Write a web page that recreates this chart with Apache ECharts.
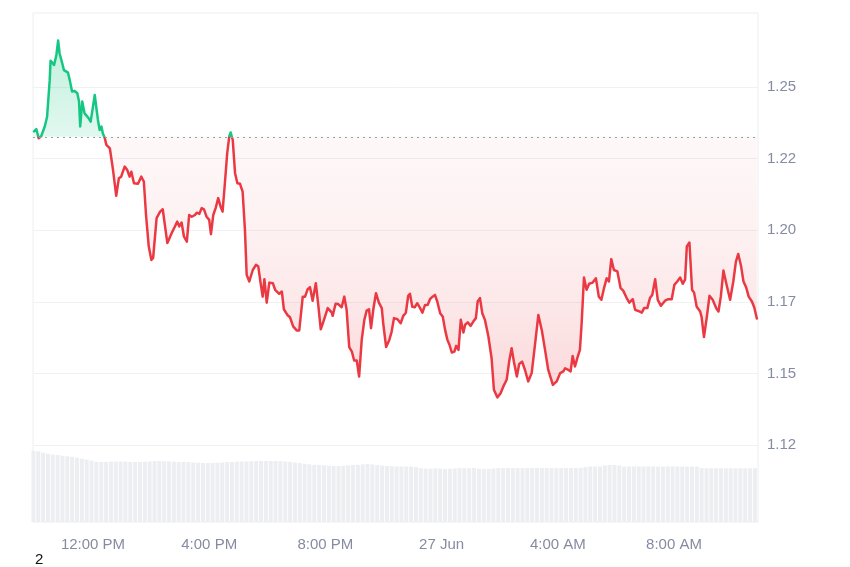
<!DOCTYPE html>
<html><head><meta charset="utf-8">
<script src="https://cdn.jsdelivr.net/npm/echarts@6/dist/echarts.min.js"></script>
<style>html,body{margin:0;padding:0;background:#fff}#c{width:850px;height:567px}</style>
</head><body><div id="c"></div><script>
// Reference (opening) price shown by the dotted line
const baseline = 1.2326;

// Time in hours since 26 Jun 00:00
const priceTimes = [9.97,10.05,10.13,10.22,10.34,10.42,10.51,10.54,10.66,10.74,10.80,10.85,10.94,11.00,11.14,11.20,11.28,11.37,11.46,11.52,11.56,11.63,11.71,11.83,11.92,12.06,12.17,12.23,12.29,12.34,12.40,12.46,12.58,12.69,12.80,12.89,12.97,13.09,13.18,13.26,13.32,13.41,13.55,13.66,13.75,13.83,13.92,14.01,14.07,14.19,14.31,14.40,14.56,14.71,14.82,14.90,14.97,15.05,15.13,15.23,15.31,15.40,15.51,15.57,15.66,15.74,15.82,15.91,16.00,16.06,16.14,16.23,16.31,16.40,16.46,16.54,16.62,16.69,16.74,16.81,16.89,16.97,17.06,17.15,17.23,17.29,17.38,17.50,17.61,17.69,17.77,17.84,17.90,17.98,18.07,18.19,18.27,18.41,18.50,18.57,18.69,18.78,18.89,19.01,19.10,19.22,19.30,19.39,19.47,19.56,19.67,19.76,19.84,19.95,20.08,20.22,20.25,20.35,20.44,20.56,20.65,20.73,20.82,20.91,20.99,21.08,21.16,21.25,21.34,21.42,21.50,21.57,21.65,21.74,21.84,21.94,21.99,22.09,22.20,22.28,22.36,22.48,22.59,22.68,22.77,22.85,22.91,22.99,23.08,23.16,23.26,23.34,23.43,23.52,23.60,23.69,23.77,23.85,23.95,24.04,24.12,24.20,24.27,24.35,24.44,24.50,24.58,24.66,24.75,24.81,24.90,25.00,25.09,25.18,25.24,25.32,25.40,25.49,25.61,25.72,25.80,25.92,26.03,26.15,26.24,26.33,26.41,26.49,26.59,26.67,26.77,26.87,26.98,27.10,27.22,27.33,27.45,27.56,27.67,27.83,27.96,28.08,28.19,28.25,28.36,28.44,28.51,28.59,28.67,28.76,28.82,28.90,28.99,29.08,29.20,29.31,29.41,29.50,29.59,29.68,29.76,29.84,29.93,30.05,30.16,30.25,30.37,30.46,30.58,30.66,30.77,30.89,30.97,31.08,31.17,31.25,31.35,31.44,31.55,31.69,31.80,31.92,32.01,32.11,32.21,32.30,32.38,32.44,32.53,32.62,32.69,32.78,32.90,32.95,33.03,33.13,33.22,33.33,33.45,33.53,33.61,33.70,33.81,33.93,34.04,34.13,34.21,34.31,34.39,34.48,34.57,34.68,34.76,34.85];

const prices = [1.2345,1.2353,1.2321,1.2329,1.2362,1.2396,1.2524,1.2592,1.2577,1.2612,1.2662,1.2618,1.2583,1.2559,1.2550,1.2524,1.2484,1.2486,1.2478,1.2449,1.2362,1.2449,1.2408,1.2394,1.2379,1.2472,1.2385,1.2350,1.2362,1.2338,1.2324,1.2298,1.2286,1.2210,1.2120,1.2181,1.2187,1.2222,1.2210,1.2187,1.2204,1.2164,1.2162,1.2187,1.2170,1.2047,1.1943,1.1896,1.1903,1.2042,1.2065,1.2073,1.1955,1.1990,1.2013,1.2030,1.2013,1.2027,1.1978,1.1960,1.2053,1.2047,1.2053,1.2061,1.2057,1.2077,1.2073,1.2047,1.2036,1.1986,1.2053,1.2080,1.2112,1.2080,1.2065,1.2164,1.2269,1.2327,1.2341,1.2315,1.2199,1.2164,1.2162,1.2135,1.2001,1.1844,1.1821,1.1861,1.1879,1.1873,1.1815,1.1768,1.1829,1.1747,1.1817,1.1815,1.1792,1.1778,1.1786,1.1724,1.1704,1.1696,1.1664,1.1650,1.1650,1.1768,1.1768,1.1794,1.1801,1.1754,1.1815,1.1733,1.1654,1.1687,1.1728,1.1712,1.1701,1.1743,1.1742,1.1731,1.1768,1.1722,1.1592,1.1576,1.1545,1.1545,1.1489,1.1617,1.1687,1.1719,1.1724,1.1658,1.1724,1.1780,1.1747,1.1728,1.1675,1.1592,1.1617,1.1646,1.1693,1.1689,1.1675,1.1701,1.1712,1.1771,1.1778,1.1733,1.1731,1.1745,1.1728,1.1712,1.1739,1.1739,1.1759,1.1768,1.1774,1.1751,1.1710,1.1698,1.1652,1.1617,1.1600,1.1573,1.1576,1.1596,1.1582,1.1687,1.1643,1.1670,1.1678,1.1666,1.1681,1.1693,1.1751,1.1763,1.1710,1.1687,1.1629,1.1553,1.1443,1.1416,1.1431,1.1460,1.1478,1.1545,1.1588,1.1540,1.1489,1.1533,1.1541,1.1512,1.1472,1.1501,1.1606,1.1704,1.1650,1.1582,1.1512,1.1460,1.1472,1.1501,1.1507,1.1518,1.1512,1.1507,1.1561,1.1524,1.1553,1.1582,1.1675,1.1835,1.1792,1.1813,1.1817,1.1832,1.1768,1.1757,1.1798,1.1832,1.1821,1.1899,1.1861,1.1856,1.1798,1.1789,1.1763,1.1747,1.1759,1.1722,1.1718,1.1712,1.1728,1.1728,1.1763,1.1774,1.1829,1.1757,1.1736,1.1754,1.1759,1.1759,1.1809,1.1821,1.1835,1.1813,1.1827,1.1943,1.1957,1.1792,1.1782,1.1733,1.1716,1.1696,1.1627,1.1698,1.1771,1.1757,1.1728,1.1716,1.1768,1.1859,1.1809,1.1757,1.1821,1.1890,1.1917,1.1873,1.1821,1.1801,1.1768,1.1751,1.1731,1.1692];

// Volume bars, one every 10 minutes starting at volStart (hours)
const volStart = 9.95;
const volStepHours = 1 / 6;
const volumes = [6.97,6.95,6.80,6.70,6.62,6.58,6.50,6.46,6.40,6.32,
6.22,6.12,6.02,5.92,5.90,5.89,5.94,5.94,5.94,5.94,
5.90,5.89,5.89,5.92,5.95,5.99,5.99,5.97,5.95,5.92,
5.90,5.89,5.88,5.85,5.82,5.80,5.80,5.80,5.82,5.85,
5.88,5.89,5.92,5.94,5.95,5.97,5.99,5.99,5.99,5.99,
5.99,5.97,5.94,5.90,5.85,5.78,5.72,5.66,5.62,5.60,
5.57,5.53,5.51,5.50,5.52,5.56,5.60,5.62,5.66,5.70,
5.66,5.60,5.55,5.50,5.47,5.45,5.45,5.45,5.44,5.40,
5.28,5.26,5.24,5.27,5.24,5.21,5.24,5.26,5.30,5.30,
5.28,5.30,5.24,5.22,5.21,5.26,5.30,5.30,5.31,5.30,
5.30,5.29,5.30,5.30,5.31,5.30,5.30,5.30,5.29,5.30,
5.30,5.31,5.30,5.32,5.40,5.45,5.45,5.45,5.55,5.60,
5.60,5.55,5.45,5.45,5.45,5.46,5.45,5.45,5.45,5.44,
5.45,5.45,5.46,5.45,5.45,5.44,5.45,5.45,5.30,5.28,
5.28,5.28,5.28,5.28,5.28,5.28,5.28,5.28,5.28,5.28];

const xTickValues = [12, 16, 20, 24, 28, 32];
const xTickLabels = ['12:00 PM', '4:00 PM', '8:00 PM', '27 Jun', '4:00 AM', '8:00 AM'];
const yTickValues = [1.125, 1.15, 1.175, 1.2, 1.225, 1.25];
const yTickLabels = ['1.12', '1.15', '1.17', '1.20', '1.22', '1.25'];

const xMin = 9.935, xMax = 34.89;
const yMin = 1.1, yMax = 1.275;
const labelColor = '#858ca2';
const fontFam = '"Liberation Sans", Arial, sans-serif';
const upColor = '#16c784', downColor = '#ea3943';

const chart = echarts.init(document.getElementById('c'), null, { renderer: 'canvas' });

const priceData = priceTimes.map((t, i) => [t, prices[i]]);
const volData = volumes.map((v, i) => [volStart + i * volStepHours, v]);

// Price grid geometry (pixels) used to split colours at the baseline
const gTop = 15.4, gBottom = 50.4, H = 567;
const plotH = H - gTop - gBottom;
const baseY = gTop + (yMax - baseline) / (yMax - yMin) * plotH;
const off = v => (v - gTop) / plotH;
const baseOff = off(baseY);

const lineGradient = {
  type: 'linear', x: 0, y: gTop, x2: 0, y2: H - gBottom, global: true,
  colorStops: [
    { offset: 0, color: upColor },
    { offset: baseOff, color: upColor },
    { offset: baseOff + 0.0001, color: downColor },
    { offset: 1, color: downColor }
  ]
};
const areaGradient = {
  type: 'linear', x: 0, y: gTop, x2: 0, y2: H - gBottom, global: true,
  colorStops: [
    { offset: 0, color: 'rgba(22,199,132,0.40)' },
    { offset: off(45), color: 'rgba(22,199,132,0.37)' },
    { offset: baseOff, color: 'rgba(22,199,132,0.18)' },
    { offset: baseOff + 0.0001, color: 'rgba(234,57,67,0.05)' },
    { offset: off(230), color: 'rgba(234,57,67,0.10)' },
    { offset: off(300), color: 'rgba(234,57,67,0.16)' },
    { offset: off(370), color: 'rgba(234,57,67,0.25)' },
    { offset: off(398), color: 'rgba(234,57,67,0.30)' },
    { offset: 1, color: 'rgba(234,57,67,0.30)' }
  ]
};

chart.setOption({
  animation: false,
  backgroundColor: '#ffffff',
  grid: [
    { left: 33, right: 92, top: gTop, bottom: gBottom, show: false },
    { left: 33, right: 92, top: 13, bottom: 45, show: true, borderColor: '#eceef1', borderWidth: 1, backgroundColor: 'rgba(0,0,0,0)' }
  ],
  xAxis: [
    { type: 'value', gridIndex: 0, min: xMin, max: xMax, show: false },
    {
      type: 'value', gridIndex: 1, min: xMin, max: xMax,
      axisLine: { show: false }, axisTick: { show: false }, splitLine: { show: false },
      axisLabel: {
        customValues: xTickValues, margin: 15, color: labelColor, fontSize: 15, fontFamily: fontFam,
        formatter: v => { const k = xTickValues.indexOf(Math.round(v)); return k >= 0 ? xTickLabels[k] : ''; }
      }
    }
  ],
  yAxis: [
    {
      type: 'value', gridIndex: 0, position: 'right', min: yMin, max: yMax, interval: 0.025,
      axisLine: { show: false }, axisTick: { show: false },
      splitLine: { show: true, lineStyle: { color: ['rgba(0,0,0,0)', '#eff1f3', '#eff1f3', '#eff1f3', '#eff1f3', '#eff1f3', '#eff1f3', 'rgba(0,0,0,0)'], width: 1 } },
      axisLabel: {
        margin: 9, color: labelColor, fontSize: 15, fontFamily: fontFam,
        formatter: v => { const k = Math.round((v - 1.125) / 0.025); return (k >= 0 && k < yTickLabels.length) ? yTickLabels[k] : ''; }
      }
    },
    { type: 'value', gridIndex: 1, min: 0, max: 50, show: false }
  ],
  graphic: [
    { type: 'text', left: 35, top: 552, style: { text: '2', fontSize: 15, fill: '#111', fontFamily: fontFam } }
  ],
  series: [
    {
      type: 'bar', xAxisIndex: 1, yAxisIndex: 1, data: volData, barWidth: 4,
      itemStyle: { color: '#eceef2' }, silent: true, z: 1
    },
    {
      type: 'line', xAxisIndex: 0, yAxisIndex: 0, data: priceData,
      showSymbol: false, symbol: 'none', z: 3,
      lineStyle: { width: 2.5, join: 'round', cap: 'round', color: lineGradient },
      itemStyle: { color: downColor },
      areaStyle: { origin: baseline, color: areaGradient },
      markLine: {
        silent: true, symbol: ['none', 'none'], label: { show: false }, precision: 6,
        lineStyle: { color: '#9ba0a8', type: [2, 4], width: 1 },
        data: [{ yAxis: baseline }]
      }
    }
  ]
});
</script></body></html>
